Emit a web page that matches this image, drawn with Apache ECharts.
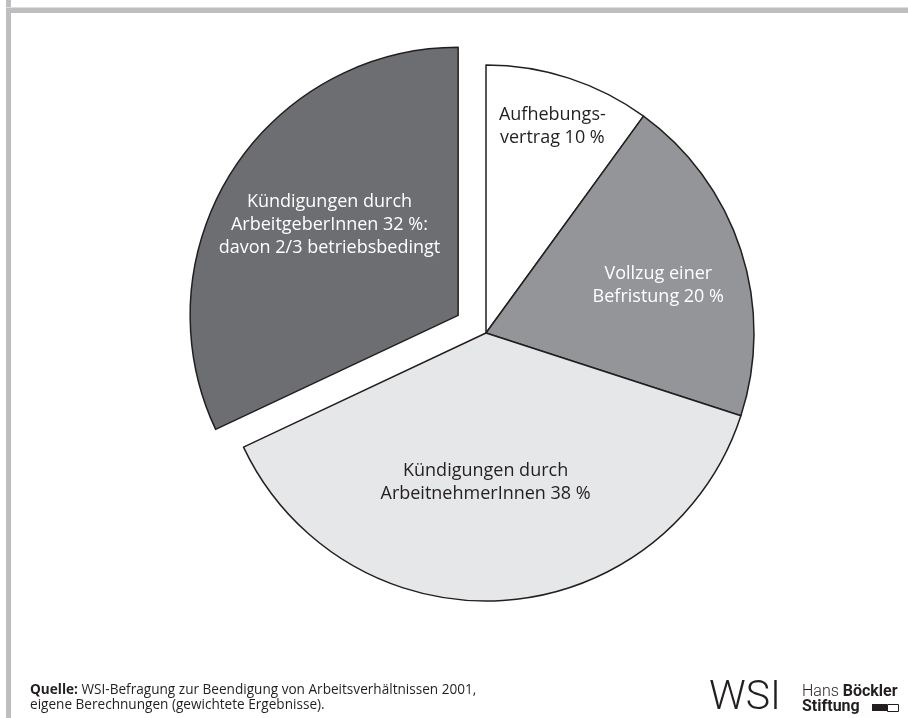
<!DOCTYPE html>
<html>
<head>
<meta charset="utf-8">
<script src="https://cdn.jsdelivr.net/npm/echarts@6/dist/echarts.min.js"></script>
<style>
html,body{margin:0;padding:0;background:#fff;}
#chart{width:908px;height:718px;}
</style>
</head>
<body>
<div id="chart"></div>
<script>
// ---- data ----
const categories = ['Aufhebungsvertrag', 'Vollzug einer Befristung', 'Kündigungen durch ArbeitnehmerInnen', 'Kündigungen durch ArbeitgeberInnen'];
const values = [10, 20, 38, 32];
const labelTexts = [
  'Aufhebungs-\nvertrag 10 %',
  'Vollzug einer\nBefristung 20 %',
  'Kündigungen durch\nArbeitnehmerInnen 38 %',
  'Kündigungen durch\nArbeitgeberInnen 32 %:\ndavon 2/3 betriebsbedingt'
];
const sourceBold = 'Quelle:';
const sourceLine1 = ' WSI-Befragung zur Beendigung von Arbeitsverhältnissen 2001,';
const sourceLine2 = 'eigene Berechnungen (gewichtete Ergebnisse).';

// ---- styles ----
const sliceColors = ['#ffffff', '#939598', '#e6e7e8', '#6d6e71'];
const labelColors = ['#231f20', '#ffffff', '#231f20', '#ffffff'];
const explodedIndex = 3;
const labelShift = [[24, -76], [42, -5], [-9, 13], [-13, -17]];
const FONT = '"Open Sans", sans-serif';

const chart = echarts.init(document.getElementById('chart'), null, {renderer: 'canvas'});

const data = categories.map((c, i) => ({
  name: c,
  value: values[i],
  selected: i === explodedIndex,
  itemStyle: {color: sliceColors[i]},
  label: {color: labelColors[i]}
}));

chart.setOption({
  animation: false,
  backgroundColor: '#ffffff',
  series: [{
    type: 'pie',
    center: [486, 333],
    radius: [0, 268],
    startAngle: 90,
    clockwise: true,
    selectedMode: 'single',
    selectedOffset: 33,
    silent: true,
    data: data,
    itemStyle: {borderColor: '#231f20', borderWidth: 1.5},
    label: {
      show: true,
      position: 'inside',
      fontFamily: FONT,
      fontSize: 18,
      lineHeight: 23,
      align: 'center',
      formatter: p => labelTexts[p.dataIndex]
    },
    labelLine: {show: false},
    labelLayout: function (params) {
      const s = labelShift[params.dataIndex];
      return {dx: s[0], dy: s[1]};
    },
    emphasis: {disabled: true}
  }],
  graphic: [
    {type: 'rect', left: 6, top: 0, shape: {width: 5, height: 718}, style: {fill: '#bcbec0'}, silent: true},
    {type: 'rect', left: 6, top: 7, shape: {width: 902, height: 6}, style: {fill: '#bcbec0'}, silent: true},
    {type: 'rect', left: 6, top: 7, shape: {width: 902, height: 1}, style: {fill: '#dcdddf'}, silent: true},
    {
      type: 'text', left: 30, top: 683,
      style: {
        text: '{b|' + sourceBold + '}' + sourceLine1 + '\n' + sourceLine2,
        font: '13.6px ' + FONT, fill: '#231f20', lineHeight: 14.5,
        rich: {b: {fontWeight: 'bold', fontFamily: FONT, fontSize: 13.6, fill: '#231f20', lineHeight: 14.5}}
      }
    },
    {
      type: 'text', left: 709, top: 678,
      style: {text: 'WSI', font: '300 41px Roboto, sans-serif', fill: '#231f20'}
    },
    {
      type: 'text', left: 802, top: 684,
      style: {
        text: '{l|Hans }{b|Böckler}\n{b|Stiftung}',
        fill: '#231f20',
        rich: {
          l: {fontFamily: 'Roboto, sans-serif', fontWeight: 300, fontSize: 16, lineHeight: 15, fill: '#231f20'},
          b: {fontFamily: 'Roboto, sans-serif', fontWeight: 'bold', fontSize: 16, lineHeight: 15, fill: '#231f20'}
        }
      }
    },
    {type: 'rect', left: 872, top: 704, shape: {width: 15, height: 7}, style: {fill: '#231f20'}},
    {type: 'rect', left: 887, top: 704, shape: {width: 11, height: 7}, style: {fill: '#fff', stroke: '#231f20', lineWidth: 1}}
  ]
});
</script>
</body>
</html>
